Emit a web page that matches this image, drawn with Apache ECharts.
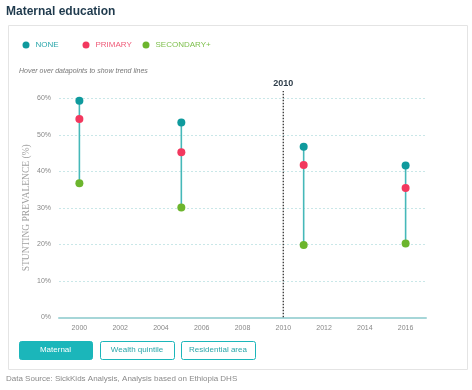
<!DOCTYPE html>
<html><head><meta charset="utf-8">
<script src="https://cdn.jsdelivr.net/npm/echarts@6/dist/echarts.min.js"></script>
<style>html,body{margin:0;padding:0;background:#fff}#c{width:472px;height:390px}</style>
</head><body><div id="c"></div>
<script>
var years = [2000, 2005, 2011, 2016];
var noneVals = [59.3, 53.4, 46.7, 41.6];
var primaryVals = [54.3, 45.2, 41.7, 35.4];
var secondaryVals = [36.7, 30.1, 19.8, 20.2];
var xTickLabels = [2000, 2002, 2004, 2006, 2008, 2010, 2012, 2014, 2016];
var markYear = 2010;
var markTop = 62;
var seriesNames = ['NONE', 'PRIMARY', 'SECONDARY+'];
var buttons = ['Maternal', 'Wealth quintile', 'Residential area'];

var cNone = '#0f9a9d', cPrim = '#f2385e', cSec = '#6cb52d';
var legendText = ['#2aa6aa', '#ef5a78', '#7cbf4a'];
var chart = echarts.init(document.getElementById('c'), null, {renderer: 'canvas'});

var rangeData = years.map(function (y, i) {
  var v = [noneVals[i], primaryVals[i], secondaryVals[i]];
  return [y, Math.max.apply(null, v), Math.min.apply(null, v)];
});
function pts(vals) { return years.map(function (y, i) { return [y, vals[i]]; }); }

var btnX = [19, 100, 181], btnW = [73, 74, 74];
var graphics = [
  {type: 'rect', left: 6, top: 23, shape: {width: 459, height: 344}, style: {fill: 'none', stroke: '#e4e4e4', lineWidth: 1}, silent: true, z: -1},
  {type: 'text', left: 19, top: 68, style: {text: 'Hover over datapoints to show trend lines', font: 'italic 7px "Liberation Sans", sans-serif', fill: '#777'}},
  {type: 'text', left: 6, top: 375, style: {text: 'Data Source: SickKids Analysis, Analysis based on Ethiopia DHS', font: '8px "Liberation Sans", sans-serif', fill: '#8a8a8a'}}
];
buttons.forEach(function (b, i) {
  graphics.push({type: 'rect', left: btnX[i], top: 341, shape: {width: btnW[i], height: 18, r: 2},
    style: {fill: i === 0 ? '#1bb6ba' : '#fff', stroke: '#1bb6ba', lineWidth: 1}});
  graphics.push({type: 'text', x: btnX[i] + btnW[i] / 2, y: 350,
    style: {text: b, font: '8px "Liberation Sans", sans-serif', fill: i === 0 ? '#fff' : '#2aa6aa', align: 'center', verticalAlign: 'middle'}});
});

var legendLeft = [22.5, 82.5, 142.5];
var legends = seriesNames.map(function (n, i) {
  return {left: legendLeft[i], top: 41, padding: 0, itemWidth: 7, itemHeight: 7, icon: 'circle',
    data: [{name: n, textStyle: {color: legendText[i]}}],
    textStyle: {fontFamily: 'Liberation Sans, sans-serif', fontSize: 8, padding: [0, 0, 0, 1]}};
});

chart.setOption({
  animation: false,
  title: {text: 'Maternal education', left: 1, top: 1, textStyle: {fontFamily: 'Liberation Sans, sans-serif', fontSize: 12, fontWeight: 'bold', color: '#1f3a4d'}},
  legend: legends,
  graphic: graphics,
  grid: {left: 59, right: 46, top: 98.3, bottom: 72.7, containLabel: false},
  xAxis: {type: 'value', min: 1999, max: 2017,
    axisLine: {show: true, lineStyle: {color: '#a6d6d8', width: 2}},
    axisTick: {show: false},
    splitLine: {show: false},
    axisLabel: {customValues: xTickLabels, formatter: function (v) { return String(v); }, color: '#888', fontSize: 7, margin: 7, fontFamily: 'Liberation Sans, sans-serif'}},
  yAxis: {type: 'value', min: 0, max: 60, interval: 10,
    name: 'STUNTING PREVALENCE (%)', nameLocation: 'middle', nameGap: 28, nameMoveOverlap: false,
    nameTextStyle: {fontFamily: 'Liberation Serif, serif', fontSize: 9.5, color: '#a0a0a0'},
    axisLine: {show: false}, axisTick: {show: false},
    axisLabel: {formatter: '{value}%', color: '#888', fontSize: 7, margin: 8, fontFamily: 'Liberation Sans, sans-serif'},
    splitLine: {show: true, lineStyle: {color: '#c9e7e8', type: [2, 2], width: 1}}},
  series: [
    {type: 'custom', name: 'range', data: rangeData, silent: true, z: 1,
      renderItem: function (params, api) {
        var a = api.coord([api.value(0), api.value(1)]);
        var b = api.coord([api.value(0), api.value(2)]);
        return {type: 'line', shape: {x1: a[0], y1: a[1], x2: b[0], y2: b[1]}, style: {stroke: '#45b8b9', lineWidth: 1.6}};
      }
    },
    {type: 'custom', name: 'mark', data: [[markYear, 0, markTop]], silent: true, z: 2, clip: false,
      renderItem: function (params, api) {
        var a = api.coord([api.value(0), api.value(1)]);
        var b = api.coord([api.value(0), api.value(2)]);
        return {type: 'group', children: [
          {type: 'line', shape: {x1: a[0], y1: a[1], x2: b[0], y2: b[1]}, style: {stroke: '#333', lineWidth: 1.3, lineDash: [1.5, 1.5]}},
          {type: 'text', x: b[0], y: b[1] - 3, style: {text: String(api.value(0)), fill: '#2f3e4a', font: 'bold 9px "Liberation Sans", sans-serif', align: 'center', verticalAlign: 'bottom'}}
        ]};
      }
    },
    {type: 'scatter', name: seriesNames[0], data: pts(noneVals), symbolSize: 8, itemStyle: {color: cNone, opacity: 1}, z: 3},
    {type: 'scatter', name: seriesNames[1], data: pts(primaryVals), symbolSize: 8, itemStyle: {color: cPrim, opacity: 1}, z: 3},
    {type: 'scatter', name: seriesNames[2], data: pts(secondaryVals), symbolSize: 8, itemStyle: {color: cSec, opacity: 1}, z: 3}
  ]
});
</script></body></html>
